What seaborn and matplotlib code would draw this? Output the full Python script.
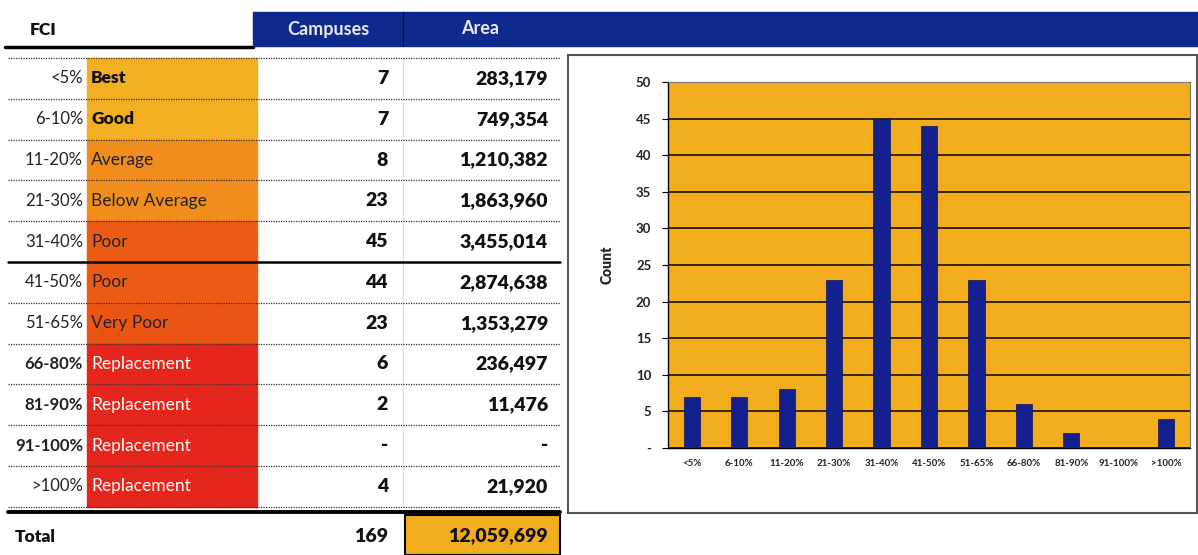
import numpy as np
import pandas as pd
import matplotlib
matplotlib.use("Agg")
import matplotlib.pyplot as plt
from matplotlib.patches import Rectangle
import seaborn as sns

fci_labels = ['<5%', '6-10%', '11-20%', '21-30%', '31-40%', '41-50%',
              '51-65%', '66-80%', '81-90%', '91-100%', '>100%']
ratings = ['Best', 'Good', 'Average', 'Below Average', 'Poor', 'Poor',
           'Very Poor', 'Replacement', 'Replacement', 'Replacement', 'Replacement']
campuses = [7, 7, 8, 23, 45, 44, 23, 6, 2, 0, 4]
areas = [283179, 749354, 1210382, 1863960, 3455014, 2874638,
         1353279, 236497, 11476, 0, 21920]
total_campuses = 169
total_area = 12059699

# Colours for the rating cells
rating_colors = ['#f4ae21', '#f4ae21', '#f08d1d', '#f08d1d', '#ec5b13', '#ec5b13',
                 '#ea5514', '#e4261c', '#e4261c', '#e4261c', '#e4261c']
rating_text = ['#111111', '#111111', '#222222', '#222222', '#222222', '#222222',
               '#222222', 'white', 'white', 'white', 'white']
rating_bold = [True, True, False, False, False, False, False, False, False, False, False]
fci_bold = [False, False, False, False, False, False, False, True, True, True, False]

sns.set_theme(style="white")
plt.rcParams['font.family'] = ['Lato', 'DejaVu Sans']

navy = '#0d2a8c'
amber = '#f2ad1e'

fig = plt.figure(figsize=(11.98, 5.55), dpi=100)
ax = fig.add_axes([0, 0, 1, 1])
ax.set_xlim(0, 1198)
ax.set_ylim(555, 0)
ax.axis('off')

# Header
ax.add_patch(Rectangle((253, 12), 945, 34, color=navy, zorder=1))
ax.plot([403, 403], [12, 46], color='#111133', lw=1, zorder=2)
ax.plot([5, 253], [47, 47], color='black', lw=2.5, zorder=2)
ax.text(30, 30, 'FCI', fontsize=12.5, fontweight='heavy', va='center', color='#111111')
ax.text(328, 29, 'Campuses', fontsize=13, fontweight='bold', ha='center', va='center', color='#e8e8f0')
ax.text(480, 29, 'Area', fontsize=13, fontweight='bold', ha='center', va='center', color='#e8e8f0')

# Table rows
top = 58
h = 40.8
for i in range(len(fci_labels)):
    y0 = top + i * h
    yc = y0 + h / 2
    ax.add_patch(Rectangle((87, y0), 170, h, color=rating_colors[i], zorder=1))
    ax.text(83, yc, fci_labels[i], fontsize=12, ha='right', va='center',
            fontweight='bold' if fci_bold[i] else 'normal', color='#222222', zorder=3)
    ax.text(91, yc, ratings[i], fontsize=12.5, ha='left', va='center',
            fontweight='heavy' if rating_bold[i] else 'normal', color=rating_text[i], zorder=3)
    c_txt = f'{campuses[i]}' if campuses[i] else '-'
    a_txt = f'{areas[i]:,}' if areas[i] else '-'
    ax.text(388, yc, c_txt, fontsize=14, ha='right', va='center', fontweight='heavy', color='#111111')
    ax.text(548, yc, a_txt, fontsize=14, ha='right', va='center', fontweight='heavy', color='#111111')

for i in range(len(fci_labels) + 1):
    y = top + i * h
    if i == 5:
        ax.plot([8, 560], [y, y], color='black', lw=1.8, zorder=2)
    else:
        ax.plot([8, 560], [y, y], color='#333333', lw=0.9, ls=(0, (1, 1)), zorder=2)

ax.plot([403, 403], [top, top + 11 * h], color='#dddddd', lw=0.8, zorder=0)

# Total row
ax.plot([8, 560], [512, 512], color='black', lw=2.8, zorder=2)
ax.add_patch(Rectangle((405, 515), 155, 40, facecolor=amber, edgecolor='black', lw=1.5, zorder=1))
ax.text(15, 537, 'Total', fontsize=12.5, fontweight='heavy', va='center', color='#111111')
ax.text(388, 536, f'{total_campuses}', fontsize=14, fontweight='heavy', ha='right', va='center', color='#111111')
ax.text(548, 536, f'{total_area:,}', fontsize=14, fontweight='heavy', ha='right', va='center', color='#111111')

# Chart frame
ax.add_patch(Rectangle((568, 55), 629, 458, facecolor='white', edgecolor='#555555', lw=1.5, zorder=1))

# Bar chart
cax = fig.add_axes([668 / 1198, (555 - 448) / 555, 522 / 1198, 366 / 555])
df = pd.DataFrame({'FCI': fci_labels, 'Count': campuses})
sns.barplot(data=df, x='FCI', y='Count', color='#15208f', width=0.34,
            saturation=1, edgecolor='#0a1060', linewidth=0.5, ax=cax, zorder=3)
cax.set_facecolor(amber)
cax.set_ylim(0, 50)
cax.set_xlim(-0.5, len(fci_labels) - 0.5)
cax.set_yticks(np.arange(0, 51, 5))
cax.set_yticklabels(['-'] + [str(v) for v in range(5, 51, 5)], fontsize=9.5, fontweight='bold', color='#222222')
cax.yaxis.grid(True, color='black', lw=1.1, zorder=1)
cax.set_axisbelow(True)
cax.set_xticks(range(len(fci_labels)))
cax.set_xticklabels(fci_labels, fontsize=7, fontweight='bold', color='#222222')
cax.set_xticks(np.arange(-0.5, len(fci_labels), 1), minor=True)
cax.tick_params(axis='x', which='major', length=0, pad=8)
cax.tick_params(axis='x', which='minor', length=4, width=0.8, color='black', direction='out')
cax.tick_params(axis='y', length=4, width=0.8, color='black', direction='out', left=True, pad=8)
cax.set_xlabel('')
cax.set_ylabel('Count', fontsize=10, fontweight='heavy', labelpad=16)
for side in ['left', 'bottom']:
    cax.spines[side].set_color('black')
    cax.spines[side].set_linewidth(1)
for side in ['top', 'right']:
    cax.spines[side].set_color('#777777')
    cax.spines[side].set_linewidth(0.8)

plt.savefig('out.png', dpi=100)
